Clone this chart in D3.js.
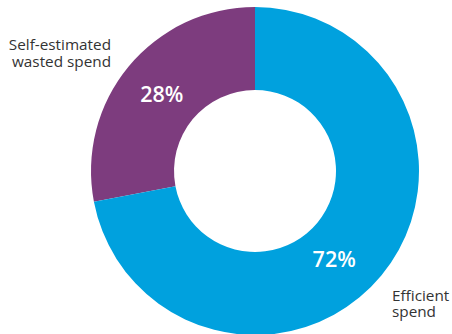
<!DOCTYPE html>
<html>
<head>
<meta charset="utf-8">
<script src="https://cdn.jsdelivr.net/npm/d3@7"></script>
<style>
  html, body { margin: 0; padding: 0; background: #fff; }
  svg { display: block; }
  text { font-family: "Open Sans", "Noto Sans", sans-serif; }
</style>
</head>
<body>
<svg id="chart" width="452" height="334"></svg>
<script>
// Spend breakdown
const categories = ["Self-estimated wasted spend", "Efficient spend"];
const values = [28, 72];
const valueLabels = ["28%", "72%"];
const colors = ["#7d3c7e", "#00a1de"];
const labelLines = [["Self-estimated", "wasted spend"], ["Efficient", "spend"]];

const width = 452, height = 334;
const cx = 255, cy = 171;
const outerR = 164, innerR = 81;

const svg = d3.select("#chart");
const g = svg.append("g").attr("transform", `translate(${cx},${cy})`);

const data = categories.map((c, i) => ({ name: c, value: values[i], i }));

// Wasted share runs counter-clockwise from 12 o'clock, efficient fills the rest
const pie = d3.pie()
  .value(d => d.value)
  .sort(null)
  .startAngle(-2 * Math.PI * values[0] / 100)
  .endAngle(2 * Math.PI - 2 * Math.PI * values[0] / 100);

const arc = d3.arc().innerRadius(innerR).outerRadius(outerR);
const arcs = pie(data);

g.selectAll("path.slice")
  .data(arcs)
  .join("path")
  .attr("class", "slice")
  .attr("d", arc)
  .attr("fill", (d, i) => colors[i]);

// Percentage labels inside the ring, nudged from the slice centroid
const labelArc = d3.arc().innerRadius(119).outerRadius(119);
const pctOffsets = [[-1.5, -1.5], [-12.5, 12]];
g.selectAll("text.pct")
  .data(arcs)
  .join("text")
  .attr("class", "pct")
  .attr("x", (d, i) => labelArc.centroid(d)[0] + pctOffsets[i][0])
  .attr("y", (d, i) => labelArc.centroid(d)[1] + pctOffsets[i][1] + 8)
  .attr("text-anchor", "middle")
  .attr("fill", "#fff")
  .attr("font-size", 21.5)
  .attr("font-weight", 600)
  .text((d, i) => valueLabels[i]);

// Category labels outside the ring, one text per line
const outer = [
  { x: 111, y: 50, anchor: "end" },
  { x: 392, y: 300.5, anchor: "start" }
];
labelLines.forEach((lines, i) => {
  lines.forEach((ln, k) => {
    svg.append("text")
      .attr("x", outer[i].x)
      .attr("y", outer[i].y + k * 16.5)
      .attr("text-anchor", outer[i].anchor)
      .attr("fill", "#333")
      .attr("font-size", 15.3)
      .text(ln);
  });
});
</script>
</body>
</html>
